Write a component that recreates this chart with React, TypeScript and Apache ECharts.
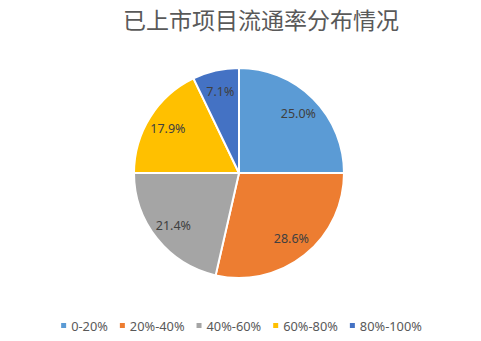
import React, { useEffect, useRef } from "react";
import * as echarts from "echarts";

const title = "已上市项目流通率分布情况";
const categories = ["0-20%", "20%-40%", "40%-60%", "60%-80%", "80%-100%"];
const values = [7, 8, 6, 5, 2];
const colors = ["#5B9BD5", "#ED7D31", "#A5A5A5", "#FFC000", "#4472C4"];

export default function App() {
  const ref = useRef<HTMLDivElement>(null);
  useEffect(() => {
    if (!ref.current) return;
    const chart = echarts.init(ref.current, undefined, { renderer: "svg" });
    const total = values.reduce((a, b) => a + b, 0);
    const data = categories.map((name, i) => ({ name, value: values[i] }));
    const font = "'Noto Sans', 'Noto Sans CJK SC', sans-serif";
    chart.setOption({
      animation: false,
      color: colors,
      title: {
        text: title,
        left: 118,
        top: 2,
        textStyle: {
          fontSize: 23,
          fontWeight: "normal",
          color: "#595959",
          fontFamily: "'Noto Sans CJK SC', sans-serif",
        },
      },
      legend: {
        bottom: 4,
        left: "center",
        icon: "rect",
        itemWidth: 7,
        itemHeight: 7,
        itemGap: 10,
        data: categories,
        textStyle: { fontSize: 12.8, color: "#595959", fontFamily: font, padding: [0, 0, 0, -1] },
      },
      series: [
        {
          type: "pie",
          center: [239, 173],
          radius: [0, 105],
          startAngle: 90,
          clockwise: true,
          silent: true,
          itemStyle: { borderColor: "#ffffff", borderWidth: 2 },
          label: { show: false },
          labelLine: { show: false },
          data,
        },
        {
          type: "pie",
          center: [239, 173],
          radius: [57, 105],
          startAngle: 90,
          clockwise: true,
          silent: true,
          itemStyle: { color: "rgba(0,0,0,0)", borderWidth: 0 },
          label: {
            show: true,
            position: "inside",
            fontSize: 12.5,
            color: "#404040",
            fontFamily: font,
            formatter: (p: any) => ((p.value / total) * 100).toFixed(1) + "%",
          },
          labelLine: { show: false },
          data,
        },
      ],
    });
    return () => chart.dispose();
  }, []);
  return (
    <div
      ref={ref}
      style={{ position: "fixed", left: 0, top: 0, width: 481, height: 341, background: "#ffffff" }}
    />
  );
}
